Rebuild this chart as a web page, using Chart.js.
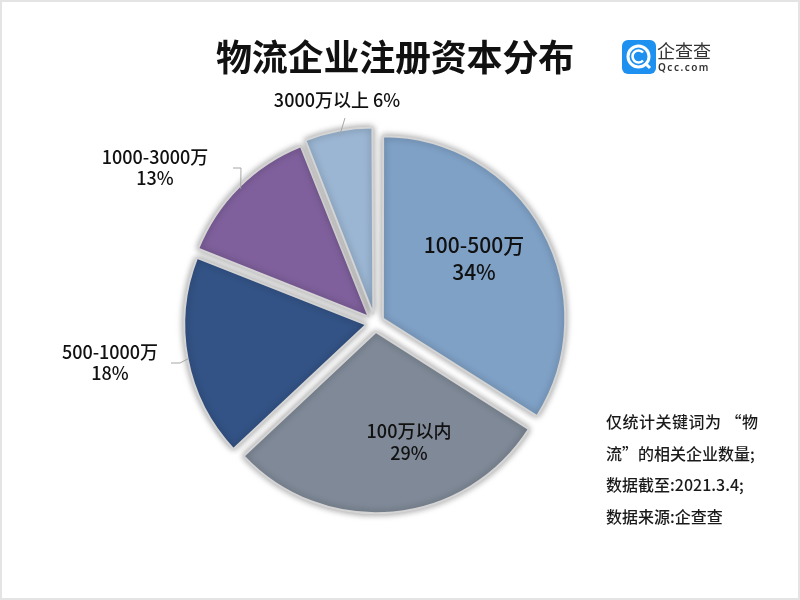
<!DOCTYPE html>
<html lang="zh-CN">
<head>
<meta charset="utf-8">
<title>物流企业注册资本分布</title>
<script src="https://cdn.jsdelivr.net/npm/chart.js@4"></script>
<style>
    html, body { margin: 0; padding: 0; background: #fff; }
    body { font-family: "Noto Sans CJK SC", sans-serif; color: #111; }
    #page { position: relative; width: 800px; height: 600px; overflow: hidden; }
    #frame { position: absolute; left: 0; top: 0; width: 796px; height: 596px; border: 2px solid #e4e4e4; pointer-events: none; }
    canvas { position: absolute; left: 0; top: 0; }
    h1 { position: absolute; left: 190px; top: 29px; width: 410px; margin: 0; text-align: center; font-size: 36px; line-height: 52px; letter-spacing: -.2px; font-weight: 700; color: #111; }
    .note { position: absolute; left: 606px; font-size: 16px; line-height: 22px; font-weight: 500; white-space: nowrap; color: #1a1a1a; }
    #logo-mark { position: absolute; left: 622px; top: 40px; }
    #logo-cn { position: absolute; left: 657px; top: 37px; font-size: 18px; line-height: 26px; color: #333; white-space: nowrap; }
    #logo-en { position: absolute; left: 658px; top: 60px; font-family: "Noto Sans", sans-serif; font-size: 10px; line-height: 14px; letter-spacing: 1.5px; font-weight: 600; color: #333; white-space: nowrap; }
</style>
</head>
<body>
<div id="page">
    <canvas id="pie" width="800" height="600"></canvas>
    <div id="frame"></div>
    <h1>物流企业注册资本分布</h1>

    <svg id="logo-mark" width="34" height="34" viewBox="0 0 34 34">
        <rect width="34" height="34" rx="6" fill="#1e90f0"/>
        <circle cx="16.5" cy="16.5" r="10.5" fill="none" stroke="#fff" stroke-width="3"/>
        <path d="M21 12.5 A6 6 0 1 0 21 20.5" fill="none" stroke="#fff" stroke-width="2.6"/>
        <path d="M23 23 L28 28" stroke="#fff" stroke-width="3"/>
    </svg>
    <div id="logo-cn">企查查</div>
    <div id="logo-en">Qcc.com</div>

    <div class="note" style="top:410px;letter-spacing:.5px">仅统计关键词为 “物</div>
    <div class="note" style="top:442px">流”的相关企业数量;</div>
    <div class="note" style="top:473px">数据截至:2021.3.4;</div>
    <div class="note" style="top:505px">数据来源:企查查</div>
</div>

<script>
    // === Data ===
    const categories = ['100-500万', '100万以内', '500-1000万', '1000-3000万', '3000万以上'];
    const shares = [34, 29, 18, 13, 6];
    const sliceColors = ['#7fa1c6', '#7f8997', '#335386', '#7f609c', '#9bb6d3'];

    const LABEL_FONT = '"Noto Sans CJK SC", sans-serif';

    // Text position of each label, with the elbow of its leader line where it has one
    const labelSpots = [
        { x: 474, y: 245, size: 21, lines: [categories[0], shares[0] + '%'], gap: 27 },
        { x: 409, y: 431, size: 18, lines: [categories[1], shares[1] + '%'], gap: 22 },
        { x: 110, y: 352, size: 18, lines: [categories[2], shares[2] + '%'], gap: 21, elbow: [[180, 363], [171, 363]] },
        { x: 155, y: 157, size: 18, lines: [categories[3], shares[3] + '%'], gap: 21, elbow: [[241, 168], [233, 168]] },
        { x: 337, y: 100, size: 18, lines: [categories[4] + ' ' + shares[4] + '%'], gap: 0, elbow: [[345, 118]] }
    ];

    const sliceShadow = {
        id: 'sliceShadow',
        beforeDatasetDraw(chart) {
            const ctx = chart.ctx;
            ctx.save();
            ctx.shadowColor = 'rgba(0, 0, 0, 0.4)';
            ctx.shadowBlur = 7;
        },
        afterDatasetDraw(chart) {
            chart.ctx.restore();
        }
    };

    const sliceLabels = {
        id: 'sliceLabels',
        afterDatasetsDraw(chart) {
            const ctx = chart.ctx;
            const arcs = chart.getDatasetMeta(0).data;
            ctx.save();

            labelSpots.forEach((spot, i) => {
                if (spot.elbow) {
                    // start the leader on the rim of its slice (arcs shift by offset / 4)
                    const arc = arcs[i];
                    const mid = (arc.startAngle + arc.endAngle) / 2;
                    const reach = arc.outerRadius + arc.options.offset / 4;
                    ctx.beginPath();
                    ctx.moveTo(arc.x + Math.cos(mid) * reach, arc.y + Math.sin(mid) * reach);
                    spot.elbow.forEach(p => ctx.lineTo(p[0], p[1]));
                    ctx.strokeStyle = '#a6a6a6';
                    ctx.lineWidth = 1;
                    ctx.stroke();
                }

                ctx.fillStyle = '#111';
                ctx.textAlign = 'center';
                ctx.textBaseline = 'middle';
                ctx.font = '500 ' + spot.size + 'px ' + LABEL_FONT;
                spot.lines.forEach((line, n) => {
                    ctx.fillText(line, spot.x, spot.y + n * spot.gap);
                });
            });

            ctx.restore();
        }
    };

    new Chart(document.getElementById('pie').getContext('2d'), {
        type: 'pie',
        data: {
            labels: categories,
            datasets: [{
                data: shares,
                backgroundColor: sliceColors,
                borderColor: '#d4d4d4',
                borderWidth: 2,
                borderAlign: 'center',
                offset: 36
            }]
        },
        options: {
            responsive: false,
            animation: false,
            layout: {
                padding: { left: 175, right: 225, top: 123, bottom: 77 }
            },
            plugins: {
                legend: { display: false },
                tooltip: { enabled: false }
            }
        },
        plugins: [sliceShadow, sliceLabels]
    });
</script>
</body>
</html>
